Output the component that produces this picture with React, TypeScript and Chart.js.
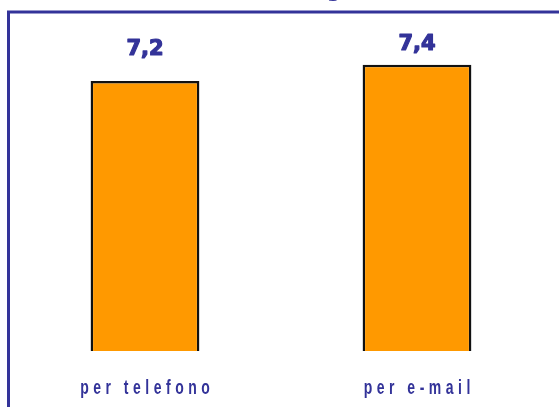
import React, { useEffect, useRef } from "react";
import { Chart, registerables } from "chart.js";

Chart.register(...registerables);

const categories = ["per telefono", "per e-mail"];
const values = [7.2, 7.4];
const yMin = 3.87;
const yMax = 8;

const BLUE = "#333399";

const decorPlugin = {
  id: "decor",
  beforeDraw(chart: any) {
    const ctx = chart.ctx;
    ctx.save();
    ctx.fillStyle = "#ffffff";
    ctx.fillRect(0, 0, chart.width, chart.height);
    // frame
    ctx.strokeStyle = BLUE;
    ctx.lineWidth = 3;
    ctx.strokeRect(8.5, 12, chart.width + 10, chart.height + 10);
    // cut-off title descender
    ctx.fillStyle = BLUE;
    ctx.font = 'bold 20px "DejaVu Sans", sans-serif';
    ctx.textAlign = "center";
    ctx.textBaseline = "alphabetic";
    ctx.fillText("g", 334, -3);
    ctx.restore();
  },
  afterDatasetsDraw(chart: any) {
    const ctx = chart.ctx;
    const meta = chart.getDatasetMeta(0);
    const xScale = chart.scales.x;
    ctx.save();
    // value labels
    ctx.fillStyle = BLUE;
    ctx.strokeStyle = BLUE;
    ctx.lineWidth = 1.2;
    ctx.lineJoin = "round";
    ctx.font = 'bold 21px "DejaVu Sans", sans-serif';
    ctx.textAlign = "center";
    ctx.textBaseline = "alphabetic";
    meta.data.forEach((bar: any, i: number) => {
      const y = 0.3 * bar.y + 31;
      const t = String(values[i]).replace(".", ",");
      ctx.fillText(t, bar.x, y);
      ctx.strokeText(t, bar.x, y);
    });
    // category labels
    ctx.font = 'bold 14px "Liberation Sans Narrow", "Liberation Sans", sans-serif';
    (ctx as any).letterSpacing = "4.5px";
    ctx.textAlign = "left";
    categories.forEach((c, i) => {
      const cx = xScale.getPixelForValue(i);
      const w = ctx.measureText(c).width - 4.5;
      ctx.save();
      ctx.translate(cx - w / 2, 394);
      ctx.scale(1, 1.4);
      ctx.fillText(c, 0, 0);
      ctx.restore();
    });
    ctx.restore();
  },
};

export default function App() {
  const ref = useRef<HTMLCanvasElement | null>(null);
  useEffect(() => {
    document.body.style.margin = "0";
    const chart = new Chart(ref.current as HTMLCanvasElement, {
      type: "bar",
      data: {
        labels: categories,
        datasets: [
          {
            data: values,
            backgroundColor: "#FF9900",
            borderColor: "#111111",
            borderWidth: 2.5,
            borderSkipped: false,
            barPercentage: 0.4,
            categoryPercentage: 1,
          },
        ],
      },
      options: {
        animation: false,
        responsive: false,
        maintainAspectRatio: false,
        layout: { padding: { left: 9, right: 6, top: 16, bottom: 56 } },
        plugins: {
          legend: { display: false },
          tooltip: { enabled: false },
          title: { display: false },
        },
        scales: {
          x: { display: false, offset: true },
          y: { display: false, min: yMin, max: yMax },
        },
      },
      plugins: [decorPlugin],
    });
    return () => chart.destroy();
  }, []);
  return (
    <div style={{ position: "absolute", left: 0, top: 0, width: 559, height: 407 }}>
      <canvas ref={ref} width={559} height={407} style={{ width: 559, height: 407, display: "block" }} />
    </div>
  );
}
